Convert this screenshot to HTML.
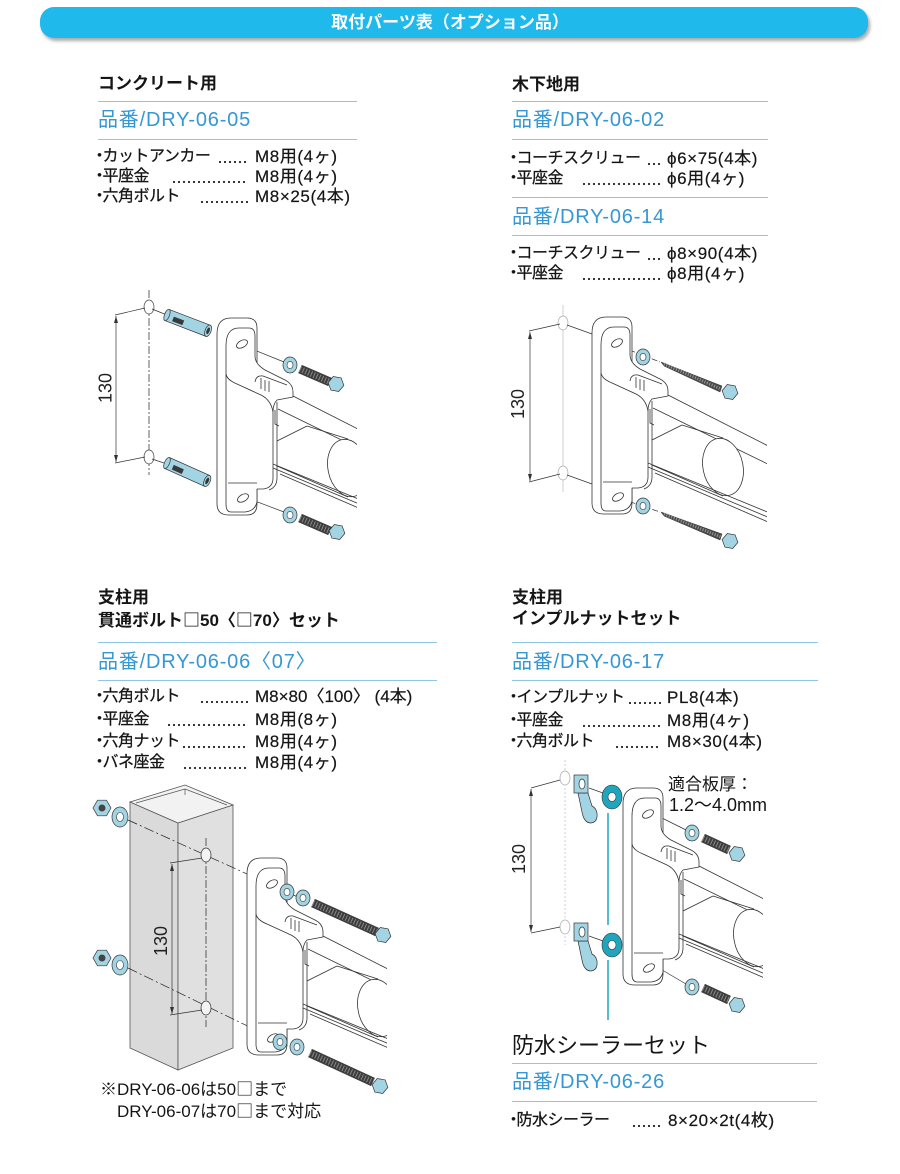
<!DOCTYPE html>
<html><head><meta charset="utf-8">
<style>
html,body{margin:0;padding:0;background:#fff;}
#pg{position:relative;width:900px;height:1174px;overflow:hidden;background:#fff;font-family:"Liberation Sans","Noto Sans CJK JP",sans-serif;color:#151515;}
.a{position:absolute;white-space:nowrap;}
.hdr{position:absolute;left:40px;top:7px;width:828px;height:31px;border-radius:14px;background:#1fb9ec;box-shadow:2px 3px 3px rgba(0,0,0,0.33);}
.hdrt{position:absolute;left:0;top:7px;width:900px;text-align:center;color:#fff;font-weight:bold;font-size:17px;line-height:31px;font-family:"Liberation Sans","Noto Sans CJK JP",sans-serif;}
.ti{font-weight:bold;font-size:17px;line-height:20px;}
.cd{font-size:20px;line-height:24px;color:#3597d4;letter-spacing:0.8px;}
.it{font-size:16px;line-height:18px;letter-spacing:-0.5px;-webkit-text-stroke:0.25px #151515;}
.v{font-size:17px;line-height:18px;letter-spacing:0.6px;-webkit-text-stroke:0.2px #151515;}
.b{display:inline-block;margin-left:-6.5px;margin-right:-4.5px;}
.sq{font-family:"Noto Sans CJK JP",sans-serif;}
.ln{position:absolute;height:1px;background:#8ec5e8;}
.dt{position:absolute;height:18px;background:radial-gradient(circle at 2px 2px,#222 0.9px,transparent 1.3px) 0 12px/5px 4px repeat-x;}
.nt{font-size:17px;line-height:20px;}
svg{position:absolute;left:0;top:0;}
</style></head><body>
<div id="pg">
<div class="hdr"></div>
<div class="hdrt">取付パーツ表（オプション品）</div>

<svg width="900" height="1174" viewBox="0 0 900 1174">
<defs>
<g id="br" stroke="#333" stroke-width="0.8" stroke-linejoin="round">
 <path d="M0,16 Q0,0 14,0 L30,0 Q40,0 40,10 L40,186 Q40,197 30,197 L12,197 Q0,197 0,186 Z" fill="#fff"/>
 <path d="M9,28 Q9,10 22,10 L32,10 Q38,10 38,18 L38,38 Q38,46 48,52 L68,62 Q76,66 76,74 L76,79 L60,82 Q56,86 56,94 L56,160 Q56,170 46,171 L40,171 L40,184 Q38,193 28,194 L14,194 Q9,194 9,186 Z" fill="#fff"/>
 <path d="M9,56 Q10,62 20,66 L44,77 Q54,82 56,94" fill="none"/>
 <path d="M60,84 L60,160 Q60,169 52,172" fill="none"/>
 <path d="M11,165 L40,165" fill="none"/>
 <path d="M38,64 Q39,57 46,58 L70,67 M44,60 L44,71 M48,62 L48,73 M52,63 L52,74" fill="none"/>
 <ellipse cx="25" cy="26" rx="6" ry="3.5" transform="rotate(-30 25 26)" fill="#fff"/>
 <ellipse cx="26" cy="180" rx="6" ry="3.5" transform="rotate(-30 26 180)" fill="#fff"/>
</g>
<g id="bars" fill="none" stroke="#333" stroke-width="0.8">
 <line x1="76" y1="78" x2="190" y2="136"/>
 <line x1="61" y1="91" x2="190" y2="154"/>
 <path d="M58,92 L58,106 L62,108"/>
 <line x1="60" y1="123" x2="90" y2="108"/>
 <line x1="90" y1="108" x2="131" y2="121"/>
 <line x1="60" y1="148" x2="131" y2="179"/>
 <ellipse cx="131" cy="150" rx="20" ry="29" transform="rotate(-12 131 150)" fill="#fff"/>
 <line x1="56" y1="146" x2="190" y2="201"/>
 <line x1="56" y1="150" x2="190" y2="206"/>
 <line x1="63" y1="156" x2="190" y2="211"/>
</g>
<clipPath id="c140" clipPathUnits="userSpaceOnUse"><rect x="-20" y="-20" width="160" height="260"/></clipPath>
<clipPath id="c175" clipPathUnits="userSpaceOnUse"><rect x="-20" y="-20" width="195" height="260"/></clipPath>
<polygon id="hex" points="8,0 4,6.9 -4,6.9 -8,0 -4,-6.9 4,-6.9" fill="#a3d4e4" stroke="#333" stroke-width="0.7"/>
<g id="wsh"><ellipse rx="7" ry="8" fill="#a3d4e4" stroke="#333" stroke-width="0.7"/><ellipse rx="3" ry="3.6" fill="#fff" stroke="#333" stroke-width="0.6"/></g>
<g id="nut"><polygon points="9,0 4.5,7.8 -4.5,7.8 -9,0 -4.5,-7.8 4.5,-7.8" fill="#a3d4e4" stroke="#333" stroke-width="0.7"/><circle r="3.5" fill="#444"/></g>
</defs>

<!-- ===== Concrete ===== -->
<line x1="149" y1="290" x2="149" y2="475" stroke="#222" stroke-width="0.7" stroke-dasharray="8 2 2 2"/>
<ellipse cx="149" cy="307" rx="5" ry="7" fill="#fff" stroke="#444" stroke-width="0.7"/>
<ellipse cx="149" cy="457" rx="5" ry="7" fill="#fff" stroke="#444" stroke-width="0.7"/>
<g stroke="#333" stroke-width="0.7" fill="none">
 <line x1="115" y1="315" x2="145" y2="308"/><line x1="115" y1="463" x2="145" y2="457"/>
 <line x1="116" y1="316" x2="116" y2="462"/>
 <line x1="152" y1="309" x2="167" y2="315"/><line x1="152" y1="459" x2="167" y2="464"/>
 <line x1="247" y1="347" x2="284" y2="362"/><line x1="247" y1="498" x2="284" y2="512"/>
</g>
<polygon points="116,316 114,323 118,323" fill="#333"/><polygon points="116,462 114,455 118,455" fill="#333"/>
<text transform="translate(111.5,388) rotate(-90)" text-anchor="middle" font-size="18" font-family="Liberation Sans, sans-serif" fill="#222">130</text>
<g transform="translate(217,318)" clip-path="url(#c140)"><use href="#bars"/></g>
<use href="#br" transform="translate(217,318)"/>
<g transform="translate(167,315) rotate(21)">
 <rect x="0" y="-6" width="44" height="12" fill="#a3d4e4" stroke="#333" stroke-width="0.7"/>
 <ellipse cx="0" cy="0" rx="2.5" ry="6" fill="#a3d4e4" stroke="#333" stroke-width="0.7"/>
 <rect x="7" y="-1" width="11" height="5" fill="#3a3a3a"/>
 <ellipse cx="44" cy="0" rx="3" ry="6" fill="#a3d4e4" stroke="#333" stroke-width="0.7"/>
 <ellipse cx="44" cy="0" rx="1.5" ry="3.5" fill="#333"/>
</g>
<g transform="translate(167,463) rotate(24)">
 <rect x="0" y="-6" width="44" height="12" fill="#a3d4e4" stroke="#333" stroke-width="0.7"/>
 <ellipse cx="0" cy="0" rx="2.5" ry="6" fill="#a3d4e4" stroke="#333" stroke-width="0.7"/>
 <rect x="7" y="-1" width="11" height="5" fill="#3a3a3a"/>
 <ellipse cx="44" cy="0" rx="3" ry="6" fill="#a3d4e4" stroke="#333" stroke-width="0.7"/>
 <ellipse cx="44" cy="0" rx="1.5" ry="3.5" fill="#333"/>
</g>
<use href="#wsh" transform="translate(290,365)"/><use href="#wsh" transform="translate(290,515)"/>
<line x1="300" y1="369" x2="330" y2="382" stroke="#3d3d3d" stroke-width="9"/>
<line x1="300" y1="369" x2="330" y2="382" stroke="#888" stroke-width="6" stroke-dasharray="1 2"/>
<use href="#hex" transform="translate(336,384) rotate(10)"/>
<line x1="300" y1="518" x2="330" y2="531" stroke="#3d3d3d" stroke-width="9"/>
<line x1="300" y1="518" x2="330" y2="531" stroke="#888" stroke-width="6" stroke-dasharray="1 2"/>
<use href="#hex" transform="translate(337,532) rotate(10)"/>

<!-- ===== Wood ===== -->
<line x1="563" y1="305" x2="563" y2="492" stroke="#bbb" stroke-width="0.7"/>
<ellipse cx="563" cy="323" rx="5" ry="7" fill="#fff" stroke="#aaa" stroke-width="0.7"/>
<ellipse cx="563" cy="473" rx="5" ry="7" fill="#fff" stroke="#aaa" stroke-width="0.7"/>
<g stroke="#333" stroke-width="0.7" fill="none">
 <line x1="529" y1="331" x2="560" y2="324"/><line x1="529" y1="482" x2="560" y2="474"/>
 <line x1="530" y1="332" x2="530" y2="481"/>
 <line x1="567" y1="325" x2="592" y2="334"/><line x1="567" y1="475" x2="592" y2="484"/>
 <line x1="622" y1="347" x2="660" y2="362" stroke-dasharray="6 2"/><line x1="622" y1="499" x2="660" y2="512" stroke-dasharray="6 2"/>
</g>
<polygon points="530,332 528,339 532,339" fill="#333"/><polygon points="530,481 528,474 532,474" fill="#333"/>
<text transform="translate(524,404) rotate(-90)" text-anchor="middle" font-size="18" font-family="Liberation Sans, sans-serif" fill="#222">130</text>
<g transform="translate(592,317)" clip-path="url(#c175)"><use href="#bars"/></g>
<use href="#br" transform="translate(592,317)"/>
<use href="#wsh" transform="translate(643,357)"/><use href="#wsh" transform="translate(643,506)"/>
<path d="M661,362 L722,386 L720,392 L664,366 Z" fill="#4a4a4a" stroke="#333" stroke-width="0.5"/>
<line x1="664" y1="364" x2="721" y2="389" stroke="#9a9a9a" stroke-width="3" stroke-dasharray="1 1.6"/>
<use href="#hex" transform="translate(730,392) rotate(10)"/>
<path d="M661,512 L722,534 L720,540 L664,516 Z" fill="#4a4a4a" stroke="#333" stroke-width="0.5"/>
<line x1="664" y1="514" x2="721" y2="537" stroke="#9a9a9a" stroke-width="3" stroke-dasharray="1 1.6"/>
<use href="#hex" transform="translate(730,541) rotate(10)"/>

<!-- ===== Post ===== -->
<polygon points="130,802 178,823 178,1070 130,1048" fill="#dadada" stroke="#555" stroke-width="0.8"/>
<polygon points="178,823 233,805 233,1048 178,1070" fill="#e0e0e0" stroke="#555" stroke-width="0.8"/>
<polygon points="130,802 185,785 233,805 178,823" fill="#f2f2f2" stroke="#555" stroke-width="0.8"/>
<path d="M136,803 L185,789 L227,805 M185,789 L185,795" fill="none" stroke="#555" stroke-width="0.7"/>
<line x1="206" y1="838" x2="206" y2="1027" stroke="#222" stroke-width="0.7" stroke-dasharray="8 2 2 2"/>
<line x1="128" y1="820" x2="300" y2="898" stroke="#222" stroke-width="0.7" stroke-dasharray="10 3 2 3"/>
<line x1="128" y1="968" x2="297" y2="1050" stroke="#222" stroke-width="0.7" stroke-dasharray="10 3 2 3"/>
<ellipse cx="206" cy="855" rx="5" ry="7" fill="#f3f3f3" stroke="#333" stroke-width="0.7"/>
<ellipse cx="206" cy="1008" rx="5" ry="7" fill="#f3f3f3" stroke="#333" stroke-width="0.7"/>
<g stroke="#333" stroke-width="0.7" fill="none">
 <line x1="170" y1="863" x2="202" y2="858"/><line x1="170" y1="1015" x2="202" y2="1010"/>
 <line x1="172" y1="864" x2="172" y2="1014"/>
</g>
<polygon points="172,864 170,871 174,871" fill="#333"/><polygon points="172,1014 170,1007 174,1007" fill="#333"/>
<text transform="translate(167,941) rotate(-90)" text-anchor="middle" font-size="18" font-family="Liberation Sans, sans-serif" fill="#222">130</text>
<use href="#nut" transform="translate(102,808)"/><use href="#nut" transform="translate(102,958)"/>
<g transform="translate(120,817)"><ellipse rx="8" ry="10" fill="#a3d4e4" stroke="#333" stroke-width="0.7"/><ellipse rx="3.5" ry="4.5" fill="#fff" stroke="#333" stroke-width="0.6"/></g>
<g transform="translate(120,965)"><ellipse rx="8" ry="10" fill="#a3d4e4" stroke="#333" stroke-width="0.7"/><ellipse rx="3.5" ry="4.5" fill="#fff" stroke="#333" stroke-width="0.6"/></g>
<g transform="translate(247,858)" clip-path="url(#c140)"><use href="#bars"/></g>
<use href="#br" transform="translate(247,858)"/>
<use href="#wsh" transform="translate(287,892)"/><use href="#wsh" transform="translate(303,898)"/>
<use href="#wsh" transform="translate(280,1042)"/><use href="#wsh" transform="translate(297,1047)"/>
<line x1="313" y1="903" x2="377" y2="932" stroke="#3d3d3d" stroke-width="9"/>
<line x1="313" y1="903" x2="377" y2="932" stroke="#888" stroke-width="6" stroke-dasharray="1 2"/>
<use href="#hex" transform="translate(383,935) rotate(10)"/>
<line x1="310" y1="1053" x2="373" y2="1082" stroke="#3d3d3d" stroke-width="9"/>
<line x1="310" y1="1053" x2="373" y2="1082" stroke="#888" stroke-width="6" stroke-dasharray="1 2"/>
<use href="#hex" transform="translate(380,1086) rotate(10)"/>

<!-- ===== Impul ===== -->
<line x1="565" y1="760" x2="565" y2="945" stroke="#bbb" stroke-width="0.7" stroke-dasharray="2 2"/>
<ellipse cx="565" cy="778" rx="5" ry="7" fill="#fff" stroke="#aaa" stroke-width="0.7"/>
<ellipse cx="565" cy="927" rx="5" ry="7" fill="#fff" stroke="#aaa" stroke-width="0.7"/>
<g stroke="#333" stroke-width="0.7" fill="none">
 <line x1="531" y1="788" x2="560" y2="780"/><line x1="531" y1="933" x2="560" y2="927"/>
 <line x1="531" y1="789" x2="531" y2="932"/>
 <line x1="589" y1="788" x2="603" y2="793"/><line x1="589" y1="936" x2="603" y2="941"/>
 <line x1="652" y1="813" x2="686" y2="830"/><line x1="652" y1="964" x2="686" y2="984"/>
</g>
<polygon points="531,789 529,796 533,796" fill="#333"/><polygon points="531,932 529,925 533,925" fill="#333"/>
<text transform="translate(525,859) rotate(-90)" text-anchor="middle" font-size="18" font-family="Liberation Sans, sans-serif" fill="#222">130</text>
<line x1="608" y1="813" x2="608" y2="925" stroke="#1fa6bd" stroke-width="1.5"/>
<line x1="608" y1="960" x2="608" y2="1020" stroke="#1fa6bd" stroke-width="1.5"/>
<g stroke="#333" stroke-width="0.7">
 <path d="M578,793 L582,812 Q584,823 591,823 Q598,822 597,813 Q596,808 592,806 L588,793 Z" fill="#a3d4e4"/>
 <rect x="574" y="775" width="14" height="18" fill="#a3d4e4"/>
 <ellipse cx="582" cy="784" rx="3" ry="5" fill="#fff"/>
 <path d="M578,941 L582,960 Q584,971 591,971 Q598,970 597,961 Q596,956 592,954 L588,941 Z" fill="#a3d4e4"/>
 <rect x="574" y="923" width="14" height="18" fill="#a3d4e4"/>
 <ellipse cx="582" cy="932" rx="3" ry="5" fill="#fff"/>
</g>
<g transform="translate(612,797)"><ellipse rx="10" ry="12" fill="#1fa6bd" stroke="#333" stroke-width="0.6"/><ellipse rx="4" ry="4.5" fill="#fff" stroke="#333" stroke-width="0.6"/></g>
<g transform="translate(612,945)"><ellipse rx="10" ry="12" fill="#1fa6bd" stroke="#333" stroke-width="0.6"/><ellipse rx="4" ry="4.5" fill="#fff" stroke="#333" stroke-width="0.6"/></g>
<g transform="translate(623,788)" clip-path="url(#c140)"><use href="#bars"/></g>
<use href="#br" transform="translate(623,788)"/>
<use href="#wsh" transform="translate(692,833)"/><use href="#wsh" transform="translate(692,987)"/>
<line x1="703" y1="838" x2="729" y2="850" stroke="#3d3d3d" stroke-width="9"/>
<line x1="703" y1="838" x2="729" y2="850" stroke="#888" stroke-width="6" stroke-dasharray="1 2"/>
<use href="#hex" transform="translate(737,854) rotate(10)"/>
<line x1="703" y1="988" x2="729" y2="1000" stroke="#3d3d3d" stroke-width="9"/>
<line x1="703" y1="988" x2="729" y2="1000" stroke="#888" stroke-width="6" stroke-dasharray="1 2"/>
<use href="#hex" transform="translate(737,1005) rotate(10)"/>
</svg>

<!-- ===== Concrete text ===== -->
<div class="a ti" style="left:98px;top:74px">コンクリート用</div>
<div class="ln" style="left:98px;top:101px;width:259px"></div>
<div class="a cd" style="left:98px;top:108px">品番/DRY-06-05</div>
<div class="ln" style="left:98px;top:139px;width:259px"></div>
<div class="a it" style="left:98px;top:148px"><span class="b">・</span>カットアンカー</div>
<div class="dt" style="left:218px;top:148px;width:30px"></div>
<div class="a v" style="left:255px;top:148px">M8用(4ヶ)</div>
<div class="a it" style="left:98px;top:168px"><span class="b">・</span>平座金</div>
<div class="dt" style="left:172px;top:168px;width:76px"></div>
<div class="a v" style="left:255px;top:168px">M8用(4ヶ)</div>
<div class="a it" style="left:98px;top:188px"><span class="b">・</span>六角ボルト</div>
<div class="dt" style="left:200px;top:188px;width:48px"></div>
<div class="a v" style="left:255px;top:188px">M8×25(4本)</div>

<!-- ===== Wood text ===== -->
<div class="a ti" style="left:512px;top:75px">木下地用</div>
<div class="ln" style="left:512px;top:101px;width:256px"></div>
<div class="a cd" style="left:512px;top:108px">品番/DRY-06-02</div>
<div class="ln" style="left:512px;top:139px;width:256px"></div>
<div class="a it" style="left:512px;top:150px"><span class="b">・</span>コーチスクリュー</div>
<div class="dt" style="left:647px;top:150px;width:16px"></div>
<div class="a v" style="left:667px;top:150px">ϕ6×75(4本)</div>
<div class="a it" style="left:512px;top:170px"><span class="b">・</span>平座金</div>
<div class="dt" style="left:582px;top:170px;width:81px"></div>
<div class="a v" style="left:667px;top:170px">ϕ6用(4ヶ)</div>
<div class="ln" style="left:512px;top:197px;width:256px"></div>
<div class="a cd" style="left:512px;top:205px">品番/DRY-06-14</div>
<div class="ln" style="left:512px;top:235px;width:256px"></div>
<div class="a it" style="left:512px;top:245px"><span class="b">・</span>コーチスクリュー</div>
<div class="dt" style="left:647px;top:245px;width:16px"></div>
<div class="a v" style="left:667px;top:245px">ϕ8×90(4本)</div>
<div class="a it" style="left:512px;top:265px"><span class="b">・</span>平座金</div>
<div class="dt" style="left:582px;top:265px;width:81px"></div>
<div class="a v" style="left:667px;top:265px">ϕ8用(4ヶ)</div>

<!-- ===== Post text ===== -->
<div class="a ti" style="left:98px;top:588px">支柱用</div>
<div class="a ti" style="left:98px;top:609px">貫通ボルト<span class="sq">□</span>50〈<span class="sq">□</span>70〉セット</div>
<div class="ln" style="left:98px;top:642px;width:339px"></div>
<div class="a cd" style="left:98px;top:650px">品番/DRY-06-06〈07〉</div>
<div class="ln" style="left:98px;top:680px;width:339px"></div>
<div class="a it" style="left:98px;top:688px"><span class="b">・</span>六角ボルト</div>
<div class="dt" style="left:200px;top:688px;width:48px"></div>
<div class="a v" style="left:255px;top:688px;letter-spacing:0">M8×80〈100〉 (4本)</div>
<div class="a it" style="left:98px;top:711px"><span class="b">・</span>平座金</div>
<div class="dt" style="left:167px;top:711px;width:81px"></div>
<div class="a v" style="left:255px;top:711px">M8用(8ヶ)</div>
<div class="a it" style="left:98px;top:733px"><span class="b">・</span>六角ナット</div>
<div class="dt" style="left:182px;top:733px;width:66px"></div>
<div class="a v" style="left:255px;top:733px">M8用(4ヶ)</div>
<div class="a it" style="left:98px;top:754px"><span class="b">・</span>バネ座金</div>
<div class="dt" style="left:183px;top:754px;width:65px"></div>
<div class="a v" style="left:255px;top:754px">M8用(4ヶ)</div>

<div class="a nt" style="left:100px;top:1078px">※DRY-06-06は50<span class="sq">□</span>まで</div>
<div class="a nt" style="left:117px;top:1100px">DRY-06-07は70<span class="sq">□</span>まで対応</div>

<!-- ===== Impul text ===== -->
<div class="a ti" style="left:512px;top:588px">支柱用</div>
<div class="a ti" style="left:512px;top:609px">インプルナットセット</div>
<div class="ln" style="left:512px;top:642px;width:306px"></div>
<div class="a cd" style="left:512px;top:650px">品番/DRY-06-17</div>
<div class="ln" style="left:512px;top:680px;width:306px"></div>
<div class="a it" style="left:512px;top:689px"><span class="b">・</span>インプルナット</div>
<div class="dt" style="left:628px;top:689px;width:33px"></div>
<div class="a v" style="left:667px;top:689px">PL8(4本)</div>
<div class="a it" style="left:512px;top:712px"><span class="b">・</span>平座金</div>
<div class="dt" style="left:582px;top:712px;width:79px"></div>
<div class="a v" style="left:667px;top:712px">M8用(4ヶ)</div>
<div class="a it" style="left:512px;top:733px"><span class="b">・</span>六角ボルト</div>
<div class="dt" style="left:615px;top:733px;width:46px"></div>
<div class="a v" style="left:667px;top:733px">M8×30(4本)</div>

<div class="a" style="left:668px;top:775px;font-size:17px;line-height:20px">適合板厚：</div>
<div class="a" style="left:669px;top:795px;font-size:18px;line-height:20px">1.2～4.0mm</div>

<!-- ===== Sealer text ===== -->
<div class="a" style="left:512px;top:1033px;font-size:22px;line-height:26px">防水シーラーセット</div>
<div class="ln" style="left:512px;top:1063px;width:305px"></div>
<div class="a cd" style="left:512px;top:1070px">品番/DRY-06-26</div>
<div class="ln" style="left:512px;top:1101px;width:305px"></div>
<div class="a it" style="left:512px;top:1112px"><span class="b">・</span>防水シーラー</div>
<div class="dt" style="left:632px;top:1112px;width:31px"></div>
<div class="a v" style="left:668px;top:1112px">8×20×2t(4枚)</div>
</div>
</body></html>
